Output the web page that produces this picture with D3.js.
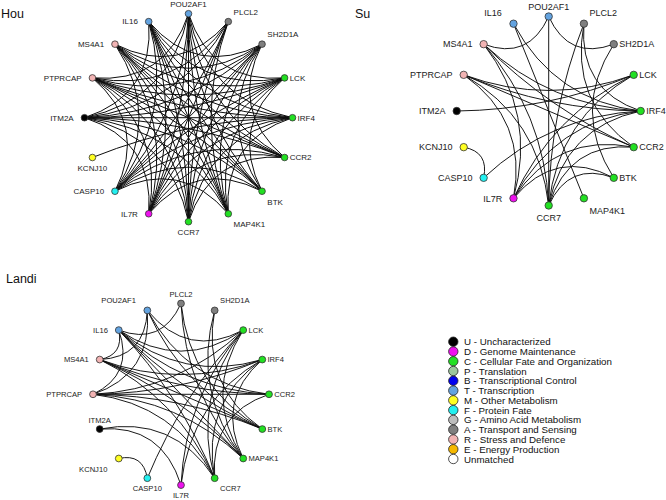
<!DOCTYPE html>
<html><head><meta charset="utf-8">
<script src="https://cdn.jsdelivr.net/npm/d3@7"></script>
<style>
body{margin:0;background:#fff}
svg{display:block}
text{font-family:"Liberation Sans",Arial,sans-serif}
</style>
</head><body>
<svg id="chart" width="666" height="500"></svg>
<script>
// ---------------- DATA ----------------
const genes = ["POU2AF1","PLCL2","SH2D1A","LCK","IRF4","CCR2","BTK","MAP4K1","CCR7","IL7R","CASP10","KCNJ10","ITM2A","PTPRCAP","MS4A1","IL16"];
const geneCategory = ["T","A","A","C","C","C","C","C","C","D","F","M","U","R","R","T"];

const legendCodes = ["U","D","C","P","B","T","M","F","G","A","R","E",""];
const legendNames = ["Uncharacterized","Genome Maintenance","Cellular Fate and Organization","Translation","Transcriptional Control","Transcription","Other Metabolism","Protein Fate","Amino Acid Metabolism","Transport and Sensing","Stress and Defence","Energy Production","Unmatched"];

const panelTitles = ["Hou","Su","Landi"];

const houLinks = [
 ["POU2AF1","LCK"],["POU2AF1","IRF4"],["POU2AF1","CCR2"],["POU2AF1","BTK"],["POU2AF1","MAP4K1"],["POU2AF1","CCR7"],["POU2AF1","IL7R"],["POU2AF1","CASP10"],["POU2AF1","ITM2A"],["POU2AF1","PTPRCAP"],
 ["PLCL2","MAP4K1"],["PLCL2","CCR7"],["PLCL2","IL7R"],["PLCL2","CASP10"],["PLCL2","ITM2A"],["PLCL2","PTPRCAP"],["PLCL2","MS4A1"],
 ["SH2D1A","CCR2"],["SH2D1A","BTK"],["SH2D1A","MAP4K1"],["SH2D1A","CCR7"],["SH2D1A","IL7R"],["SH2D1A","CASP10"],["SH2D1A","ITM2A"],["SH2D1A","PTPRCAP"],["SH2D1A","MS4A1"],["SH2D1A","IL16"],
 ["LCK","BTK"],["LCK","MAP4K1"],["LCK","CCR7"],["LCK","IL7R"],["LCK","CASP10"],["LCK","ITM2A"],["LCK","PTPRCAP"],["LCK","MS4A1"],["LCK","IL16"],
 ["IRF4","MAP4K1"],["IRF4","CCR7"],["IRF4","IL7R"],["IRF4","CASP10"],["IRF4","KCNJ10"],["IRF4","ITM2A"],["IRF4","PTPRCAP"],["IRF4","MS4A1"],["IRF4","IL16"],
 ["CCR2","CCR7"],["CCR2","IL7R"],["CCR2","CASP10"],["CCR2","ITM2A"],["CCR2","PTPRCAP"],["CCR2","MS4A1"],["CCR2","IL16"],
 ["BTK","IL7R"],["BTK","CASP10"],["BTK","ITM2A"],["BTK","PTPRCAP"],["BTK","MS4A1"],["BTK","IL16"],
 ["MAP4K1","CASP10"],["MAP4K1","ITM2A"],["MAP4K1","PTPRCAP"],["MAP4K1","MS4A1"],["MAP4K1","IL16"],
 ["CCR7","ITM2A"],["CCR7","PTPRCAP"],["CCR7","MS4A1"],["CCR7","IL16"],
 ["IL7R","ITM2A"],["IL7R","PTPRCAP"],["IL7R","MS4A1"],["IL7R","IL16"],
 ["CASP10","PTPRCAP"],["CASP10","MS4A1"],["CASP10","IL16"],
 ["ITM2A","IL16"]
];

const suLinks = [
 ["POU2AF1","CCR7"],["POU2AF1","MS4A1"],["POU2AF1","SH2D1A"],
 ["PLCL2","CCR7"],["PLCL2","IRF4"],["PLCL2","CCR2"],
 ["SH2D1A","BTK"],
 ["IL16","MAP4K1"],["IL16","IRF4"],
 ["MS4A1","IRF4"],["MS4A1","CCR2"],["MS4A1","IL7R"],["MS4A1","CCR7"],
 ["PTPRCAP","LCK"],["PTPRCAP","IRF4"],["PTPRCAP","CCR2"],["PTPRCAP","IL7R"],["PTPRCAP","CCR7"],
 ["ITM2A","LCK"],
 ["KCNJ10","CASP10"],
 ["CASP10","IRF4"],
 ["IL7R","LCK"],["IL7R","IRF4"],["IL7R","CCR2"],["IL7R","BTK"],
 ["CCR7","LCK"],["CCR7","IRF4"],["CCR7","CCR2"],["CCR7","BTK"]
];

const landiLinks = [
 ["PTPRCAP","CCR2"],["PTPRCAP","IRF4"],["PTPRCAP","LCK"],["PTPRCAP","BTK"],["PTPRCAP","MAP4K1"],["PTPRCAP","CCR7"],["PTPRCAP","POU2AF1"],["PTPRCAP","IL16"],
 ["IL16","LCK"],["IL16","IRF4"],["IL16","CCR2"],["IL16","BTK"],["IL16","MAP4K1"],["IL16","CCR7"],["IL16","MS4A1"],
 ["MS4A1","IRF4"],["MS4A1","CCR2"],["MS4A1","BTK"],["MS4A1","MAP4K1"],["MS4A1","CCR7"],["MS4A1","POU2AF1"],
 ["POU2AF1","LCK"],["POU2AF1","CCR2"],["POU2AF1","BTK"],
 ["PLCL2","IL16"],["PLCL2","BTK"],["PLCL2","MAP4K1"],
 ["SH2D1A","BTK"],["SH2D1A","MAP4K1"],
 ["ITM2A","IL7R"],["ITM2A","CCR7"],
 ["KCNJ10","CASP10"],
 ["CASP10","LCK"],
 ["IL7R","LCK"],["IL7R","IRF4"],
 ["CCR7","LCK"],["CCR7","IRF4"],["CCR7","CCR2"],
 ["MAP4K1","LCK"],["MAP4K1","IRF4"]
];

// ---------------- STYLE / LAYOUT ----------------
const palette = ["#000000","#ee11ee","#22e022","#9cc79c","#0000ee","#63a3e0","#ffff22","#22f0f0","#bdbdbd","#7f7f7f","#f2b3b3","#f5b800","#ffffff"];
const color = d3.scaleOrdinal().domain(legendCodes).range(palette);

const panels = [
 {title:panelTitles[0], links:houLinks, cx:188.5, cy:117.7, rx:104, ry:104, start:-90, fs:8, nr:3.3, sw:1.0,
  titleX:1, titleY:18,
  place:{POU2AF1:"t",PLCL2:"tr",SH2D1A:"tr",LCK:"r",IRF4:"r",CCR2:"r",BTK:"br",MAP4K1:"br",CCR7:"b",IL7R:"l",CASP10:"l",KCNJ10:"b",ITM2A:"l",PTPRCAP:"l",MS4A1:"l",IL16:"l"}},
 {title:panelTitles[1], links:suLinks, cx:548.7, cy:111, rx:92, ry:94.5, start:-90, fs:9, nr:3.7, sw:0.95,
  titleX:355, titleY:18,
  place:{POU2AF1:"t",PLCL2:"tr",SH2D1A:"r",LCK:"r",IRF4:"r",CCR2:"r",BTK:"r",MAP4K1:"br",CCR7:"b",IL7R:"l",CASP10:"l",KCNJ10:"l",ITM2A:"l",PTPRCAP:"l",MS4A1:"l",IL16:"tl"}},
 {title:panelTitles[2], links:landiLinks, cx:181, cy:394.3, rx:88, ry:90.8, start:-112.5, fs:7.6, nr:3.4, sw:0.95,
  titleX:6, titleY:283,
  place:{POU2AF1:"tl",PLCL2:"t",SH2D1A:"tr",LCK:"r",IRF4:"r",CCR2:"r",BTK:"r",MAP4K1:"r",CCR7:"br",IL7R:"b",CASP10:"b",KCNJ10:"bl",ITM2A:"t",PTPRCAP:"l",MS4A1:"l",IL16:"l"}}
];

const svg = d3.select("#chart");
const catOf = new Map(genes.map((g,i)=>[g,geneCategory[i]]));

panels.forEach(p=>{
  const angle = d3.scaleBand().domain(genes).range([p.start*Math.PI/180, p.start*Math.PI/180 + 2*Math.PI]).padding(0);
  const xs = d3.scaleLinear().domain([-1,1]).range([p.cx-p.rx, p.cx+p.rx]);
  const ys = d3.scaleLinear().domain([-1,1]).range([p.cy-p.ry, p.cy+p.ry]);
  const unit = g => { const a = angle(g); return [Math.cos(a), Math.sin(a)]; };
  const pos = g => { const u = unit(g); return [xs(u[0]), ys(u[1])]; };
  const g = svg.append("g");
  g.append("g").selectAll("path").data(p.links).join("path")
    .attr("d", d=>{
      const u0=unit(d[0]), u1=unit(d[1]);
      const c=Math.hypot(u1[0]-u0[0],u1[1]-u0[1]);
      const mx=(u0[0]+u1[0])/2, my=(u0[1]+u1[1])/2, mL=Math.hypot(mx,my);
      const dq=Math.pow(Math.max(0,1-c/2),1.15);
      const qx = mL>1e-6 ? mx/mL*dq : 0, qy = mL>1e-6 ? my/mL*dq : 0;
      const path=d3.path(); path.moveTo(xs(u0[0]),ys(u0[1])); path.quadraticCurveTo(xs(qx),ys(qy),xs(u1[0]),ys(u1[1])); return path.toString();
    })
    .attr("fill","none").attr("stroke","#0d0d0d").attr("stroke-width",p.sw);
  g.append("g").selectAll("circle").data(genes).join("circle")
    .attr("cx",d=>pos(d)[0]).attr("cy",d=>pos(d)[1]).attr("r",p.nr)
    .attr("fill",d=>color(catOf.get(d))).attr("stroke","#333").attr("stroke-width",0.8);
  const off = code => {
    const nr=p.nr, fs=p.fs;
    switch(code){
      case "r": return [nr+1.8, fs*0.36, "start"];
      case "l": return [-(nr+7.5), fs*0.36, "end"];
      case "t": return [0, -(nr+3), "middle"];
      case "b": return [0, nr+fs*1.3, "middle"];
      case "tr": return [nr+2, -(nr+3.6), "start"];
      case "tl": return [-(nr+8), -(nr+3.6), "end"];
      case "br": return [nr+2, nr+fs*1.3, "start"];
      case "bl": return [-(nr+8), nr+fs*1.3, "end"];
    }
  };
  g.append("g").selectAll("text").data(genes).join("text")
    .attr("x",d=>pos(d)[0]+off(p.place[d])[0])
    .attr("y",d=>pos(d)[1]+off(p.place[d])[1])
    .attr("text-anchor",d=>off(p.place[d])[2])
    .attr("font-size",p.fs).attr("fill","#222").text(d=>d);
  svg.append("text").attr("x",p.titleX).attr("y",p.titleY).attr("font-size",12.5).attr("fill","#111").text(p.title);
});

// legend
const ly = d3.scaleLinear().domain([0, legendCodes.length-1]).range([341.7, 459]);
const lg = svg.append("g");
lg.selectAll("circle").data(legendCodes).join("circle")
  .attr("cx",453.3).attr("cy",(d,i)=>ly(i)).attr("r",4.7)
  .attr("fill",d=>color(d)).attr("stroke","#222").attr("stroke-width",0.8);
lg.selectAll("text").data(legendCodes).join("text")
  .attr("x",464).attr("y",(d,i)=>ly(i)+3.5).attr("font-size",9.75).attr("fill","#111")
  .text((d,i)=> d ? d+" - "+legendNames[i] : legendNames[i]);
</script>
</body></html>
